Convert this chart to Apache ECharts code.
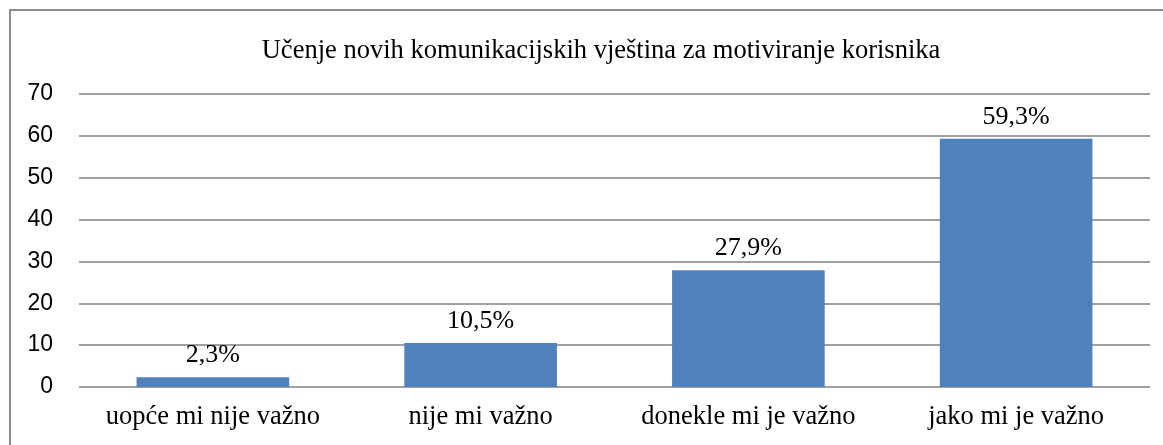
<!DOCTYPE html>
<html>
<head>
<meta charset="utf-8">
<script src="https://cdn.jsdelivr.net/npm/echarts@6/dist/echarts.min.js"></script>
<style>
html,body{margin:0;padding:0;background:#fff;overflow:hidden;}
#frame{position:absolute;left:9px;top:9px;width:1200px;height:500px;border:2px solid #8c8c8c;box-sizing:border-box;}
#chart{position:absolute;left:0;top:0;width:1163px;height:445px;}
</style>
</head>
<body>
<div id="frame"></div>
<div id="chart"></div>
<script>
const titleText = 'Učenje novih komunikacijskih vještina za motiviranje korisnika';
const categories = ['uopće mi nije važno', 'nije mi važno', 'donekle mi je važno', 'jako mi je važno'];
const values = [2.3, 10.5, 27.9, 59.3];
const yTicks = [0, 10, 20, 30, 40, 50, 60, 70];

const chart = echarts.init(document.getElementById('chart'), null, {renderer: 'canvas'});
chart.setOption({
  animation: false,
  title: {
    text: titleText,
    left: 596, top: 33, textAlign: 'center',
    textStyle: {fontFamily: 'Liberation Serif', fontSize: 26.5, fontWeight: 'normal', color: '#000'}
  },
  grid: {left: 79, right: 13, top: 94, bottom: 58, containLabel: false},
  xAxis: {
    type: 'category',
    data: categories,
    axisLine: {show: false},
    axisTick: {show: false},
    axisLabel: {interval: 0, fontFamily: 'Liberation Serif', fontSize: 26.5, color: '#000', margin: 17}
  },
  yAxis: {
    type: 'value',
    min: yTicks[0], max: yTicks[yTicks.length - 1], interval: 10,
    axisLine: {show: false},
    axisTick: {show: false},
    axisLabel: {fontFamily: 'Liberation Sans', fontSize: 23, color: '#000', margin: 26},
    splitLine: {lineStyle: {color: '#a0a0a0', width: 2}}
  },
  series: [{
    type: 'bar',
    data: values,
    barWidth: '57%',
    itemStyle: {color: '#4f81bd'},
    label: {
      show: true, position: 'top', distance: 9,
      fontFamily: 'Liberation Serif', fontSize: 26, color: '#000',
      formatter: p => p.value.toFixed(1).replace('.', ',') + '%'
    }
  }]
});
</script>
</body>
</html>
